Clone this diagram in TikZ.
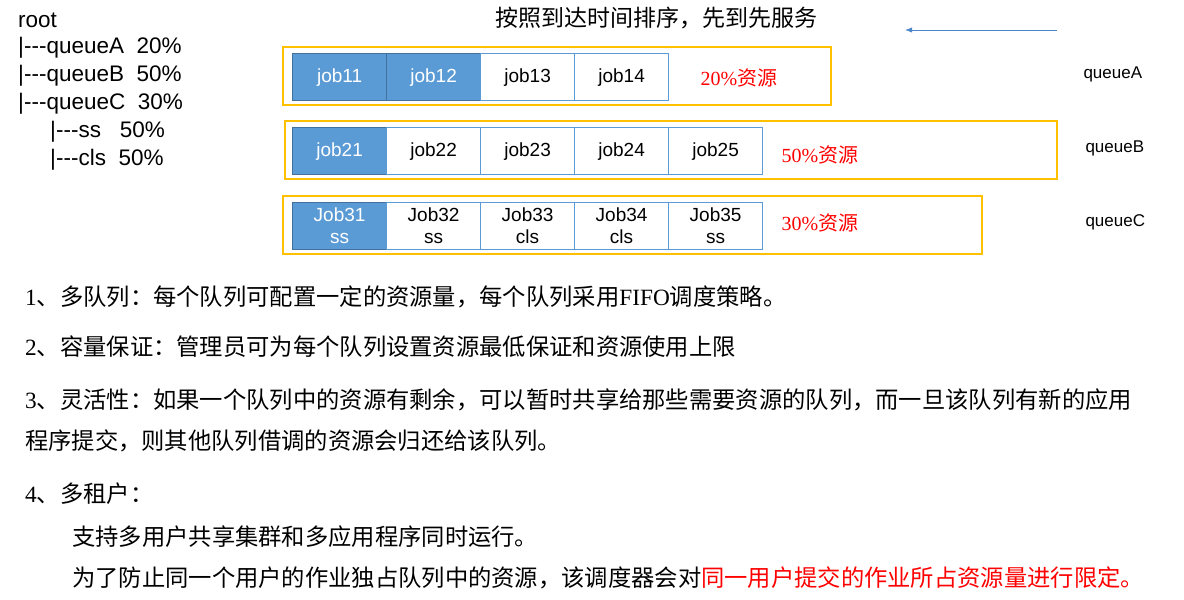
\documentclass[tikz,border=0pt]{standalone}
\usepackage{fontspec}
\usetikzlibrary{arrows.meta}
\setmainfont{Liberation Serif}
\newfontfamily\cjk{Noto Sans CJK SC}
\newfontfamily\arial{Liberation Sans}
\definecolor{jobblue}{HTML}{5B9BD5}
\definecolor{jobdark}{HTML}{41719C}
\definecolor{qorange}{HTML}{FFC000}
\definecolor{arrblue}{HTML}{4A86C8}
\begin{document}
\begin{tikzpicture}[x=1pt,y=-1pt,
  jobw/.style={draw=jobblue,line width=1.2pt,fill=white,minimum width=94pt,minimum height=47pt,inner sep=0pt,font=\arial\fontsize{19}{20}\selectfont,align=center,anchor=north west},
  jobf/.style={jobw,fill=jobblue,draw=jobdark,text=white},
  qbox/.style={draw=qorange,line width=1.5pt},
  pct/.style={text=red,font=\fontsize{20}{22}\selectfont,anchor=west},
  qlab/.style={font=\arial\fontsize{17}{19}\selectfont,anchor=west},
  tree/.style={font=\arial\fontsize{22.5}{24}\selectfont,anchor=west,inner sep=0pt},
  para/.style={font=\fontsize{23.3}{26}\selectfont,anchor=west,inner sep=0pt}]
\useasboundingbox (0,0) rectangle (1184,600);
% tree
\node[tree] (t0) at (18,20) {root};
\node[tree] (t1) at (18,48) {|---queueA\ \ 20\%};
\node[tree] (t2) at (18,76) {|---queueB\ \ 50\%};
\node[tree] (t3) at (18,104) {|---queueC\ \ 30\%};
\node[tree] (t4) at (50,132) {|---ss\ \ \ 50\%};
\node[tree] (t5) at (50,160) {|---cls\ \ 50\%};
% title & arrow
\node[font=\cjk\fontsize{23}{25}\selectfont] (title) at (656,18) {按照到达时间排序，先到先服务};
\coordinate (a1) at (1057,30); \coordinate (a2) at (905,30);
\draw[arrblue,line width=0.8pt,-{Latex[length=7pt]}] (a1) -- (a2);
% queue A
\draw[qbox] (283,47) rectangle (831,105);
\node[jobf] (j11) at (292,53) {job11};
\node[jobf] (j12) at (386,53) {job12};
\node[jobw] (j13) at (480,53) {job13};
\node[jobw] (j14) at (574,53) {job14};
\node[pct] (pa) at (697,78) {20\%{\cjk 资源}};
\node[qlab] (qa) at (1080,74) {queueA};
% queue B
\draw[qbox] (285,121) rectangle (1057,179);
\node[jobf] (j21) at (292,127) {job21};
\node[jobw] (j22) at (386,127) {job22};
\node[jobw] (j23) at (480,127) {job23};
\node[jobw] (j24) at (574,127) {job24};
\node[jobw] (j25) at (668,127) {job25};
\node[pct] (pb) at (778,155) {50\%{\cjk 资源}};
\node[qlab] (qb) at (1082,148) {queueB};
% queue C
\draw[qbox] (283,196) rectangle (982,254);
\node[jobf] (j31) at (292,202) {Job31\\[2pt]ss};
\node[jobw] (j32) at (386,202) {Job32\\[2pt]ss};
\node[jobw] (j33) at (480,202) {Job33\\[2pt]cls};
\node[jobw] (j34) at (574,202) {Job34\\[2pt]cls};
\node[jobw] (j35) at (668,202) {Job35\\[2pt]ss};
\node[pct] (pc) at (778,223) {30\%{\cjk 资源}};
\node[qlab] (qc) at (1082,222) {queueC};
% paragraphs
\node[para] (p1) at (25,297) {1{\cjk 、多队列：每个队列可配置一定的资源量，每个队列采用}FIFO{\cjk 调度策略。}};
\node[para] (p2) at (25,347) {2{\cjk 、容量保证：管理员可为每个队列设置资源最低保证和资源使用上限}};
\node[para] (p3) at (25,400) {3{\cjk 、灵活性：如果一个队列中的资源有剩余，可以暂时共享给那些需要资源的队列，而一旦该队列有新的应用}};
\node[para] (p3b) at (25,441) {\cjk 程序提交，则其他队列借调的资源会归还给该队列。};
\node[para] (p4) at (25,494) {4{\cjk 、多租户：}};
\node[para] (p5) at (72,537) {\cjk 支持多用户共享集群和多应用程序同时运行。};
\node[para] (p6) at (72,578) {\cjk 为了防止同一个用户的作业独占队列中的资源，该调度器会对\textcolor{red}{同一用户提交的作业所占资源量进行限定。}};
\end{tikzpicture}
\end{document}
